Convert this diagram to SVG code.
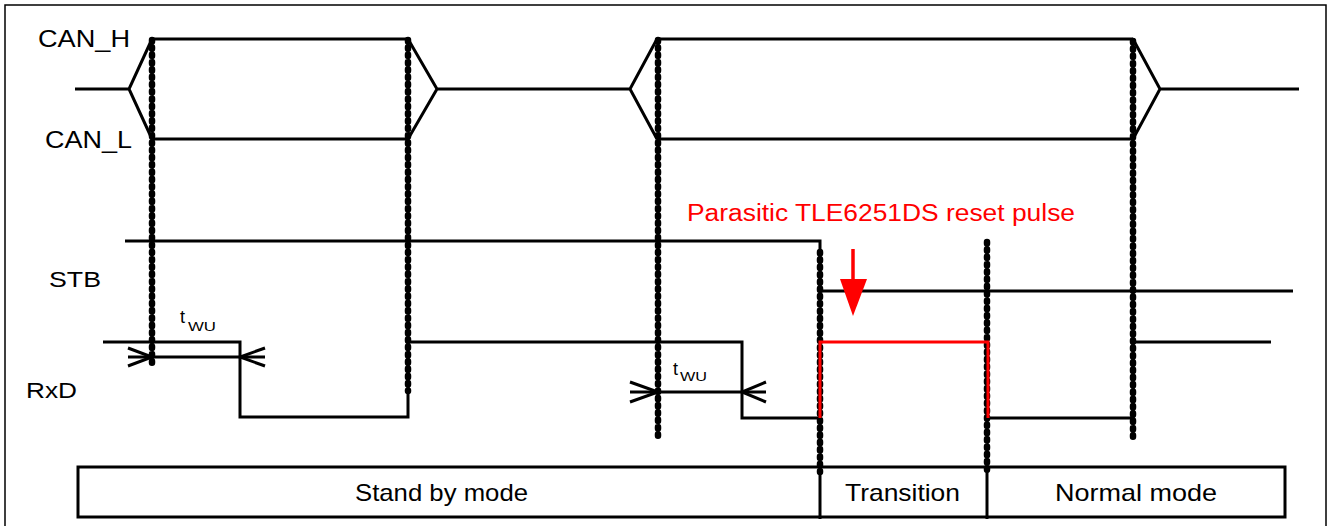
<svg xmlns="http://www.w3.org/2000/svg" width="1330" height="526" viewBox="0 0 1330 526">
<style>
.sig{fill:none;stroke:#000;stroke-width:3;stroke-linejoin:miter;stroke-linecap:butt}
.red{fill:none;stroke:#f00;stroke-width:3}
.dot{fill:none;stroke:#000;stroke-width:6.5;stroke-linecap:round;stroke-dasharray:1.5 5.8}
.lbl{font-family:"Liberation Sans",Arial,sans-serif;fill:#000}
.head{fill:none;stroke:#000;stroke-width:3}
</style>
<rect x="0" y="0" width="1330" height="526" fill="#fff"/>
<path d="M5,530 V5 H1326 V530" fill="none" stroke="#000" stroke-width="1.5"/>

<g id="connectors">
<line class="dot" x1="152" y1="40" x2="152" y2="366"/>
<line class="dot" x1="408" y1="40" x2="408" y2="391"/>
<line class="dot" x1="658" y1="40" x2="658" y2="439"/>
<line class="dot" x1="820" y1="252" x2="820" y2="472"/>
<line class="dot" x1="987" y1="242" x2="987" y2="472"/>
<line class="dot" x1="1133" y1="41" x2="1133" y2="440"/>
</g>

<g id="labels">
<text class="lbl" x="38" y="47" font-size="24" textLength="92" lengthAdjust="spacingAndGlyphs">CAN_H</text>
<text class="lbl" x="45" y="148" font-size="24" textLength="87" lengthAdjust="spacingAndGlyphs">CAN_L</text>
<text class="lbl" x="49" y="287" font-size="22" textLength="52" lengthAdjust="spacingAndGlyphs">STB</text>
<text class="lbl" x="26" y="398" font-size="22" textLength="51" lengthAdjust="spacingAndGlyphs">RxD</text>
</g>

<g id="can">
<path class="sig" d="M75,89 H129 M152,39 L129,89 L152,139 M152,39 H408 M152,139 H408 M408,39 L437,89 L408,139 M437,89 H630 M657,39 L630,89 L657,139 M657,39 H1133 M657,139 H1133 M1133,39 L1160,89 L1133,139 M1160,89 H1299"/>
</g>

<g id="stb">
<path class="sig" d="M125,241 H820 V291 H1293"/>
</g>

<g id="rxd">
<path class="sig" d="M103,342 H240 V417 H408 V342 H742 V418 H820"/>
<path class="sig" d="M988,418 H1133 V342 H1271"/>
<path class="red" d="M820,418 V342 H988 V418"/>
</g>

<g id="twu1">
<path class="sig" d="M128,357 H265"/>
<polyline class="head" points="128,348 152,357 128,366"/>
<polyline class="head" points="265,348 240,357 265,366"/>
<text class="lbl" x="180" y="323" font-size="18">t</text>
<text class="lbl" x="188" y="331" font-size="13" textLength="28" lengthAdjust="spacingAndGlyphs">WU</text>
</g>

<g id="twu2">
<path class="sig" d="M630,392 H766"/>
<polyline class="head" points="630,382 658,392 630,402"/>
<polyline class="head" points="766,382 742,392 766,402"/>
<text class="lbl" x="673" y="375" font-size="18">t</text>
<text class="lbl" x="680" y="381" font-size="13" textLength="27" lengthAdjust="spacingAndGlyphs">WU</text>
</g>

<g id="reset-note">
<text x="687" y="221" font-size="23" fill="#f00" font-family="Liberation Sans,Arial,sans-serif" textLength="388" lengthAdjust="spacingAndGlyphs">Parasitic TLE6251DS reset pulse</text>
<line x1="853" y1="249" x2="853" y2="282" stroke="#f00" stroke-width="3.5"/>
<polygon points="840,279 867,279 853,316" fill="#f00"/>
</g>

<g id="modes">
<rect x="78" y="467" width="1207" height="50" fill="none" stroke="#000" stroke-width="3"/>
<line x1="820" y1="467" x2="820" y2="519" stroke="#000" stroke-width="3"/>
<line x1="987" y1="467" x2="987" y2="519" stroke="#000" stroke-width="3"/>
<text class="lbl" x="355" y="501" font-size="24" textLength="173" lengthAdjust="spacingAndGlyphs">Stand by mode</text>
<text class="lbl" x="845" y="501" font-size="24" textLength="115" lengthAdjust="spacingAndGlyphs">Transition</text>
<text class="lbl" x="1055" y="501" font-size="24" textLength="162" lengthAdjust="spacingAndGlyphs">Normal mode</text>
</g>
</svg>
